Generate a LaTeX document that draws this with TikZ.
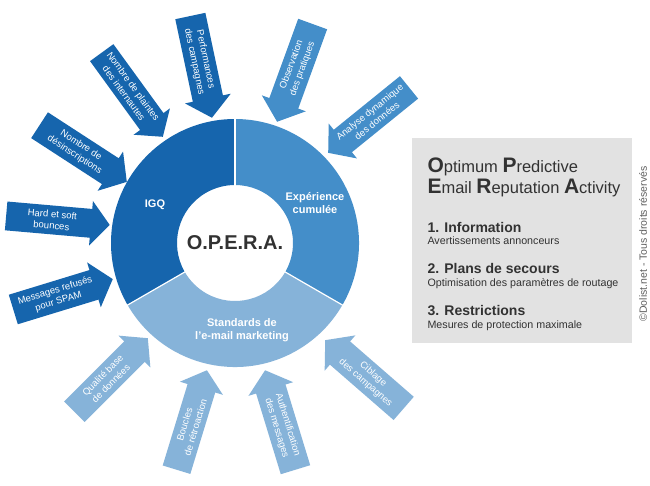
\documentclass[tikz,border=0pt]{standalone}
\usepackage{fontspec}
\setmainfont{Liberation Sans}
\usetikzlibrary{shapes.arrows}

\definecolor{igqblue}{RGB}{22,101,173}
\definecolor{expblue}{RGB}{68,142,201}
\definecolor{stdblue}{RGB}{134,179,217}
\definecolor{boxgray}{RGB}{226,226,226}
\definecolor{txtgray}{RGB}{50,50,50}
\definecolor{cpgray}{RGB}{95,95,95}

\newcommand{\opcap}[1]{{\fontsize{21}{21}\selectfont\bfseries #1}}

\begin{document}
\begin{tikzpicture}[
    x=1pt, y=1pt,
    every node/.style={font=\fontsize{9.5}{11.5}\selectfont, text=white},
    arr/.style={single arrow, fill=#1, align=center, inner xsep=1pt,
                inner ysep=5pt, minimum height=104, anchor=tip,
                single arrow head extend=8pt, single arrow tip angle=100},
    arl/.style={arr=#1, shape border rotate=180},
    seg/.style={font=\fontsize{11}{13}\selectfont\bfseries, align=center},
    ttl/.style={anchor=base west, text=txtgray, font=\fontsize{14}{16}\selectfont\bfseries},
    sub/.style={anchor=base west, text=txtgray, font=\fontsize{10.7}{12}\selectfont},
  ]
  \useasboundingbox[fill=white] (0,0) rectangle (650,-485);

  % ring
  \begin{scope}[shift={(235,-243)}]
    \fill[igqblue] (90:124) arc[start angle=90, end angle=210, radius=124]
      -- (210:58) arc[start angle=210, end angle=90, radius=58] -- cycle;
    \fill[expblue] (-30:124) arc[start angle=-30, end angle=90, radius=124]
      -- (90:58) arc[start angle=90, end angle=-30, radius=58] -- cycle;
    \fill[stdblue] (210:124) arc[start angle=210, end angle=330, radius=124]
      -- (330:58) arc[start angle=330, end angle=210, radius=58] -- cycle;
    \foreach \a in {90,210,330}
      \draw[white, line width=1.2pt] (\a:57) -- (\a:125);
  \end{scope}
  \node[text=txtgray, font=\fontsize{20}{20}\selectfont\bfseries] (opera) at (235,-243) {O.P.E.R.A.};
  \node[seg] (igq) at (155,-205) {IGQ};
  \node[seg] (exp) at (315,-203) {Expérience\\cumulée};
  \node[seg] (std) at (242,-330) {Standards de\\l'e-mail marketing};

  % arrows
  \node[arr=igqblue, rotate=-5] (bounces) at (110,-225) {Hard et soft\\bounces};
  \node[arr=igqblue, rotate=17] (spam) at (113,-279) {Messages refusés\\pour SPAM};
  \node[arr=igqblue, rotate=-33] (desinscr) at (127,-182) {Nombre de\\désinscriptions};
  \node[arr=igqblue, rotate=-54] (plaintes) at (163,-137) {Nombre de plaintes\\des internautes};
  \node[arr=igqblue, rotate=-78] (perf) at (212,-118) {Performances\\des campagnes};
  \node[arl=expblue, rotate=70] (observ) at (277,-122) {Observation\\des pratiques};
  \node[arl=expblue, rotate=39] (analyse) at (328,-153) {Analyse dynamique\\des données};
  \node[arl=stdblue, rotate=-41] (ciblage) at (325,-340) {Ciblage\\des campagnes};
  \node[arl=stdblue, rotate=-73] (authent) at (265,-370) {Authentification\\des messages};
  \node[arr=stdblue, rotate=73] (boucles) at (207,-370) {Boucles\\de rétroaction};
  \node[arr=stdblue, rotate=45] (qualite) at (148,-338) {Qualité base\\de données};

  % legend box
  \node[fill=boxgray, minimum width=220, minimum height=205, anchor=north west] (box) at (412,-138) {};
  \node[anchor=base west, text=txtgray, font=\fontsize{16.5}{16.5}\selectfont] (title1) at (424,-172) {\opcap{O}ptimum \opcap{P}redictive};
  \node[anchor=base west, text=txtgray, font=\fontsize{16.5}{16.5}\selectfont] (title2) at (424,-193) {\opcap{E}mail \opcap{R}eputation \opcap{A}ctivity};
  \node[ttl] (info) at (424,-232) {1. Information};
  \node[sub] (infosub) at (424,-244) {Avertissements annonceurs};
  \node[ttl] (plans) at (424,-273) {2. Plans de secours};
  \node[sub] (planssub) at (424,-286) {Optimisation des paramètres de routage};
  \node[ttl] (restr) at (424,-315) {3. Restrictions};
  \node[sub] (restrsub) at (424,-328) {Mesures de protection maximale};
  \node[text=cpgray, font=\fontsize{10.5}{12}\selectfont, rotate=90] (copy) at (643,-244) {©Dolist.net - Tous droits réservés};
\end{tikzpicture}
\end{document}
